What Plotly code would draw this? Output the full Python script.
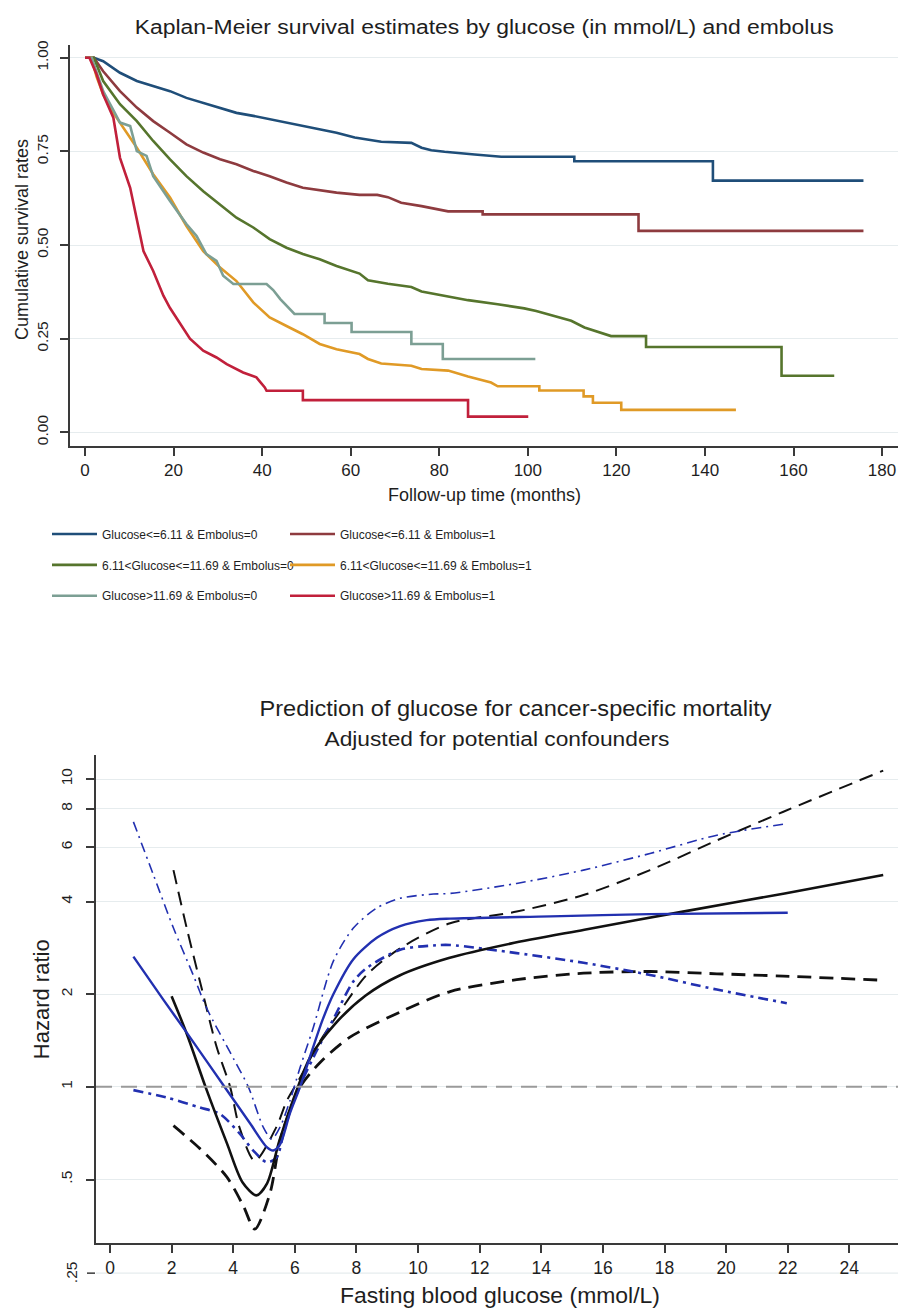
import json
import plotly.graph_objects as go

# ---------------- Kaplan-Meier data (time in months, survival) ----------------
km_names = [
    "Glucose<=6.11 & Embolus=0",
    "Glucose<=6.11 & Embolus=1",
    "6.11<Glucose<=11.69 & Embolus=0",
    "6.11<Glucose<=11.69 & Embolus=1",
    "Glucose>11.69 & Embolus=0",
    "Glucose>11.69 & Embolus=1",
]
km_colors = ["#1F4E79", "#8E3B3F", "#56752D", "#E09A26", "#7C9F94", "#C1203B"]

t_low_e0 = [0, 2, 4.1, 7.9, 11.7, 15.4, 19.2, 22.9, 26.7, 30.5, 34.2, 38, 41.7, 45.5, 49.2, 53, 56.8,
            60.9, 66.9, 73.7, 76, 78.2, 81.2, 88, 94, 110.5, 110.5, 141.8, 141.8, 175.8]
s_low_e0 = [1, 1, 0.991, 0.96, 0.938, 0.924, 0.911, 0.893, 0.88, 0.867, 0.853, 0.845, 0.836, 0.827, 0.818,
            0.809, 0.80, 0.787, 0.776, 0.773, 0.76, 0.753, 0.749, 0.742, 0.736, 0.736, 0.724, 0.724, 0.672, 0.672]

t_low_e1 = [0, 2, 4.1, 7.9, 11.7, 15.4, 19.2, 22.9, 26.7, 30.5, 34.2, 38, 41.7, 45.5, 49.2, 53, 56.8, 62,
            66, 68.4, 71.4, 76, 79, 82, 89.8, 89.8, 125, 125, 175.8]
s_low_e1 = [1, 1, 0.964, 0.911, 0.867, 0.831, 0.80, 0.769, 0.747, 0.729, 0.716, 0.698, 0.684, 0.667, 0.653,
            0.646, 0.64, 0.634, 0.634, 0.628, 0.613, 0.604, 0.596, 0.59, 0.59, 0.582, 0.582, 0.538, 0.538]

t_mid_e0 = [0, 2, 4.1, 7.9, 11.7, 15.4, 19.2, 22.9, 26.7, 30.5, 34.2, 38, 41.7, 45.5, 49.2, 53, 56.8, 62,
            63.9, 68.4, 73.7, 76, 81.2, 86.5, 93.2, 99.2, 101.9, 105.6, 109.8, 112.8, 118.8, 126.7, 126.7,
            157.3, 157.3, 169.2]
s_mid_e0 = [1, 1, 0.938, 0.876, 0.831, 0.778, 0.729, 0.684, 0.644, 0.609, 0.573, 0.547, 0.516, 0.493, 0.476,
            0.462, 0.444, 0.424, 0.406, 0.397, 0.388, 0.376, 0.364, 0.353, 0.342, 0.331, 0.324, 0.311, 0.298,
            0.28, 0.257, 0.257, 0.228, 0.228, 0.151, 0.151]

t_mid_e1 = [0, 1.5, 2.6, 4.1, 6.4, 7.9, 11.7, 15.4, 19.2, 22.9, 26.7, 30.5, 34.2, 38, 41.7, 45.5, 49.2, 53,
            56.8, 62, 63.9, 66.9, 73.7, 76, 82, 86.5, 91.7, 93.2, 102.6, 102.6, 112.6, 112.6, 114.7, 114.7,
            121.1, 121.1, 147.0]
s_mid_e1 = [1, 1, 0.95, 0.902, 0.853, 0.827, 0.76, 0.689, 0.627, 0.551, 0.484, 0.44, 0.404, 0.347, 0.307,
            0.284, 0.262, 0.236, 0.222, 0.209, 0.196, 0.184, 0.178, 0.169, 0.165, 0.149, 0.133, 0.123, 0.123,
            0.112, 0.112, 0.096, 0.096, 0.079, 0.079, 0.06, 0.06]

t_high_e0 = [0, 1.5, 4.1, 7.9, 10.2, 11.7, 13.9, 15.4, 19.2, 22.9, 25.2, 27.4, 29.7, 31.2, 33.5, 41, 42.5,
             44.1, 47.3, 54.1, 54.1, 60.2, 60.2, 73.7, 73.7, 80.8, 80.8, 101.7]
s_high_e0 = [1, 1, 0.911, 0.827, 0.818, 0.751, 0.738, 0.684, 0.618, 0.556, 0.524, 0.476, 0.458, 0.418, 0.396,
             0.396, 0.38, 0.356, 0.316, 0.316, 0.292, 0.292, 0.268, 0.268, 0.236, 0.236, 0.196, 0.196]

t_high_e1 = [0, 1, 2.6, 4.1, 6.4, 7.9, 10.2, 11.7, 13.2, 15.4, 17.7, 19.2, 21.4, 23.7, 26.7, 29.7, 32, 35.7,
             38.7, 40.6, 41, 49.2, 49.2, 86.5, 86.5, 100.1]
s_high_e1 = [1, 1, 0.956, 0.902, 0.84, 0.733, 0.653, 0.573, 0.484, 0.431, 0.365, 0.332, 0.292, 0.25, 0.218,
             0.2, 0.182, 0.16, 0.147, 0.12, 0.111, 0.111, 0.086, 0.086, 0.042, 0.042]

km_times = [t_low_e0, t_low_e1, t_mid_e0, t_mid_e1, t_high_e0, t_high_e1]
km_surv = [s_low_e0, s_low_e1, s_mid_e0, s_mid_e1, s_high_e0, s_high_e1]

km_xticks = [0, 20, 40, 60, 80, 100, 120, 140, 160, 180]
km_yticks = [0, 0.25, 0.5, 0.75, 1.0]
km_ytext = ["0.00", "0.25", "0.50", "0.75", "1.00"]

# ---------------- Hazard ratio curves (glucose mmol/L, HR) ----------------
g_black = [2.0, 2.5, 3.1, 3.8, 4.3, 4.75, 5.1, 5.5, 6.1, 6.5, 7.3, 8.3, 9.4, 11.0, 13.0, 15.4, 18.6, 21.9, 25.1]
hr_black = [1.97, 1.48, 1.0, 0.654, 0.49, 0.444, 0.486, 0.669, 1.0, 1.25, 1.6, 1.98, 2.3, 2.62, 2.92, 3.24,
            3.71, 4.25, 4.88]

g_black_up = [2.06, 2.49, 2.92, 3.46, 3.9, 4.2, 4.7, 5.4, 5.74, 6.17, 6.82, 7.47, 8.33,
              9.42, 11.04, 13.2, 15.37, 17.53, 19.7, 21.86, 25.1]
hr_black_up = [5.06, 3.28, 2.2, 1.35, 1.0, 0.74, 0.575, 0.74, 0.901, 1.07, 1.41, 1.76, 2.31,
               2.82, 3.40, 3.71, 4.2, 5.06, 6.32, 7.83, 10.65]

g_black_lo = [2.06, 2.92, 3.79, 4.33, 4.7, 5.19, 5.52, 5.84, 6.17, 6.82, 7.79, 9.42, 11.04, 13.2, 15.37,
              17.53, 19.7, 21.86, 25.1]
hr_black_lo = [0.748, 0.63, 0.51, 0.41, 0.345, 0.45, 0.669, 0.836, 1.0, 1.2, 1.45, 1.75, 2.04, 2.23,
               2.34, 2.37, 2.33, 2.29, 2.22]

g_blue = [0.76, 1.73, 2.49, 3.79, 4.55, 5.09, 5.3, 5.52, 5.84, 6.17, 6.5, 6.9, 7.25, 7.9, 8.66, 9.42, 10.28,
          11.04, 14.3, 17.5, 22.0]
hr_blue = [2.65, 1.92, 1.5, 0.977, 0.76, 0.637, 0.621, 0.65, 0.82, 1.0, 1.26, 1.65, 2.0, 2.6, 3.05, 3.33, 3.48,
           3.52, 3.58, 3.64, 3.68]

g_blue_up = [0.76, 1.41, 2.06, 2.7, 3.14, 4.0, 4.49, 4.98, 5.25, 5.52, 5.84, 6.17, 6.6, 7.25, 7.9, 8.66,
             9.42, 10.5, 11.04, 13.2, 15.37, 17.53, 19.7, 21.97]
hr_blue_up = [7.26, 4.88, 3.28, 2.31, 1.8, 1.24, 1.0, 0.738, 0.677, 0.74, 0.9, 1.155, 1.56, 2.56, 3.28,
              3.81, 4.1, 4.23, 4.25, 4.58, 5.06, 5.73, 6.57, 7.16]

g_blue_lo = [0.76, 1.84, 2.92, 3.57, 4.22, 4.65, 5.09, 5.41, 5.63, 5.95, 6.28, 6.71, 7.25, 7.9, 8.33, 9.42,
             10.5, 11.04, 13.2, 15.37, 17.53, 19.7, 21.97]
hr_blue_lo = [0.976, 0.923, 0.857, 0.816, 0.703, 0.621, 0.569, 0.59, 0.703, 0.9, 1.07, 1.31, 1.66, 2.2, 2.43,
              2.79, 2.88, 2.89, 2.72, 2.53, 2.31, 2.07, 1.87]

hr_xticks = list(range(0, 26, 2))
hr_yticks = [0.5, 1, 2, 4, 6, 8, 10]
hr_ytext = [".5", "1", "2", "4", "6", "8", "10"]

# ---------------- figure geometry ----------------
W, H = 901, 1311
FONT = "Liberation Sans, Arial, sans-serif"
TXT = "#1e1e1e"
AX = "#3a3a3a"
GRID = "#E6ECEE"


def px_x(p):
    return p / W


def px_y(p):
    return 1 - p / H


fig = go.Figure()

legend_ids = ["legend", "legend2", "legend3", "legend4", "legend5", "legend6"]
for i, (name, t, s, c) in enumerate(zip(km_names, km_times, km_surv, km_colors)):
    fig.add_trace(go.Scatter(
        x=t, y=s, mode="lines", name=name,
        line=dict(color=c, width=2.6),
        xaxis="x", yaxis="y", legend=legend_ids[i],
    ))

hr_series = [
    (g_black_up, hr_black_up, "#111111", 2.0, "14px,8px"),
    (g_black_lo, hr_black_lo, "#111111", 2.8, "14px,8px"),
    (g_blue_up, hr_blue_up, "#2230B0", 1.6, "10px,5px,2px,5px"),
    (g_blue_lo, hr_blue_lo, "#2230B0", 2.6, "10px,5px,3px,5px"),
    (g_black, hr_black, "#111111", 2.6, "solid"),
    (g_blue, hr_blue, "#2230B0", 2.4, "solid"),
]
for gx, hy, c, w, d in hr_series:
    fig.add_trace(go.Scatter(
        x=gx, y=hy, mode="lines", showlegend=False,
        line=dict(color=c, width=w, dash=d, shape="spline", smoothing=0.8),
        xaxis="x2", yaxis="y2",
    ))

axis_common = dict(
    showline=True, linecolor=AX, linewidth=1.5, ticks="outside", ticklen=8, tickwidth=1.5,
    tickcolor=AX, zeroline=False,
)

fig.update_layout(
    width=W, height=H, margin=dict(l=0, r=0, t=0, b=0),
    paper_bgcolor="white", plot_bgcolor="white",
    font=dict(family=FONT, color=TXT),
    xaxis=dict(domain=[px_x(70), px_x(898)], anchor="y", range=[-3.39, 183.6],
               tickvals=km_xticks, showgrid=False,
               tickfont=dict(family=FONT, size=17, color=TXT), **axis_common),
    yaxis=dict(domain=[px_y(443), px_y(40)], anchor="x", range=[-0.0372, 1.0346],
               tickvals=km_yticks, ticktext=km_ytext, tickangle=-90, showgrid=True,
               gridcolor=GRID, gridwidth=1.2, ticklabelstandoff=6,
               tickfont=dict(family=FONT, size=15.5, color=TXT), **axis_common),
    xaxis2=dict(domain=[px_x(96), px_x(898)], anchor="y2", range=[-0.4545, 25.58],
                tickvals=hr_xticks, showgrid=False,
                tickfont=dict(family=FONT, size=17.5, color=TXT), **axis_common),
    yaxis2=dict(domain=[px_y(1243), px_y(753)], anchor="x2", type="log",
                range=[-0.5081, 1.0777], tickvals=hr_yticks, ticktext=hr_ytext, tickangle=-90,
                showgrid=True, gridcolor=GRID, gridwidth=1.2, ticklabelstandoff=8,
                tickfont=dict(family=FONT, size=15.5, color=TXT), **axis_common),
)

# one legend per entry, laid out as a 2-column grid like the reference
leg_font = dict(family=FONT, size=12, color=TXT)
leg_pos = [(47, 531), (285, 531), (47, 562), (285, 562), (47, 593), (285, 593)]
for lid, (lx, ly) in zip(legend_ids, leg_pos):
    fig.update_layout({lid: dict(x=px_x(lx), y=px_y(ly), xanchor="left", yanchor="middle",
                                 orientation="h", itemwidth=45, bgcolor="rgba(0,0,0,0)",
                                 font=leg_font)})

# reference line at HR = 1
fig.add_shape(type="line", xref="x2 domain", yref="y2", x0=0, x1=1, y0=1, y1=1,
              line=dict(color="#9a9a9a", width=2, dash="16px,9px"), layer="above")

# Stata-style detached .25 tick below the x axis
fig.add_shape(type="line", xref="paper", yref="paper", x0=px_x(96), x1=px_x(898),
              y0=px_y(1273), y1=px_y(1273), line=dict(color=GRID, width=1.2), layer="below")
fig.add_shape(type="line", xref="paper", yref="paper", x0=px_x(87), x1=px_x(95),
              y0=px_y(1273), y1=px_y(1273), line=dict(color=AX, width=1.5))
fig.add_annotation(xref="paper", yref="paper", x=px_x(71), y=px_y(1272), text=".25",
                   showarrow=False, textangle=-90, xanchor="center", yanchor="middle",
                   font=dict(family=FONT, size=15.5, color=TXT))

# titles and axis titles: (text, x, y, font size, angle, target width in px or None)
ann = [
    ("Kaplan-Meier survival estimates by glucose (in mmol/L) and embolus", 484, 22, 20, 0, 699),
    ("Follow-up time (months)", 484, 492, 18, 0, None),
    ("Cumulative survival rates", 22, 236, 18, -90, None),
    ("Prediction of glucose for cancer-specific mortality", 516, 706, 22.5, 0, 512),
    ("Adjusted for potential confounders", 497, 737, 19.5, 0, 345),
    ("Hazard ratio", 41, 998, 22, -90, None),
    ("Fasting blood glucose (mmol/L)", 500, 1296, 21.5, 0, 320),
]
targets = {}
for text, x, y, size, ang, tw in ann:
    fig.add_annotation(xref="paper", yref="paper", x=px_x(x), y=px_y(y), text=text, showarrow=False,
                       textangle=ang, xanchor="center", yanchor="middle",
                       font=dict(family=FONT, size=size, color=TXT))
    if tw:
        targets[text] = tw

post = """
document.body.style.margin='0';document.body.style.overflow='hidden';
var gd=document.getElementById('{plot_id}');
var targets=TARGETS;
function fitAll(){
  var at=document.querySelectorAll('text.annotation-text');
  for(var j=0;j<at.length;j++){var w2=targets[at[j].textContent];
    if(w2){at[j].setAttribute('textLength',w2);at[j].setAttribute('lengthAdjust','spacingAndGlyphs');}}
}
fitAll();
try{gd.on('plotly_afterplot',fitAll);}catch(e){}
setTimeout(fitAll,0);setTimeout(fitAll,300);
""".replace("TARGETS", json.dumps(targets))

fig.write_html("out.html", config={"displayModeBar": False}, post_script=post)
